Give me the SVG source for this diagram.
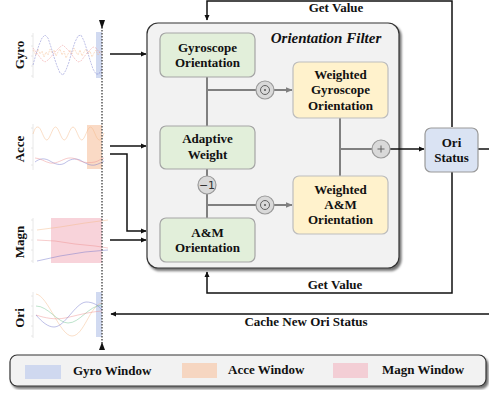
<svg xmlns="http://www.w3.org/2000/svg" width="489" height="394" viewBox="0 0 489 394">
<defs>
<style>
text{font-family:"Liberation Serif","Times New Roman",serif;font-weight:bold;font-size:13px;fill:#111;text-anchor:middle}
.green{fill:#e2efda;stroke:#a5a5a5;stroke-width:1.2}
.yellow{fill:#fff2cc;stroke:#bdbdbd;stroke-width:1.2}
.blue{fill:#dae3f3;stroke:#9a9a9a;stroke-width:1.2}
.op{fill:#d9d9d9;stroke:#9a9a9a;stroke-width:1.2}
.gl{stroke:#808080;stroke-width:2;fill:none}
.bl{stroke:#111;stroke-width:1.5;fill:none}
.ax{stroke:#e2e2e2;stroke-width:0.8;fill:none}
.sig{fill:none;stroke-width:0.9;opacity:0.5}
</style>
<marker id="ah" viewBox="0 0 10 10" refX="9" refY="5" markerWidth="6" markerHeight="6" orient="auto" markerUnits="userSpaceOnUse"><path d="M0,0.5 L10,5 L0,9.5 z" fill="#111"/></marker>
<marker id="ag" viewBox="0 0 10 10" refX="9" refY="5" markerWidth="7" markerHeight="7" orient="auto" markerUnits="userSpaceOnUse"><path d="M0,1 L10,5 L0,9 z" fill="#808080"/></marker>
<filter id="sh" x="-5%" y="-5%" width="115%" height="115%"><feDropShadow dx="2" dy="2.5" stdDeviation="1.2" flood-color="#000" flood-opacity="0.55"/></filter>
</defs>

<!-- left charts -->
<g id="chart-gyro">
<path class="ax" d="M33,33 V78 M31,36 H33 M31,46 H33 M31,56 H33 M31,66 H33 M31,76 H33"/>
<rect x="96" y="32" width="6" height="46" fill="#c9d3ee" opacity="0.85"/>
<polyline class="sig" stroke="#f5b887" stroke-dasharray="2,1" points="33,50 36,55 38,49 40,54 42,51 44,57 46,52 48,55 50,49 52,53 54,50 56,56 58,52 60,49 62,55 64,51 66,58 68,54 70,50 72,54 74,48 76,52 78,55 80,50 82,56 84,52 86,49 88,54 90,51 92,57 94,53 96,50 98,55 100,51 103,54"/>
<polyline class="sig" stroke="#ee8f8f" stroke-dasharray="2,1" points="33,48 36,52 39,56 42,60 45,62 48,60 51,57 54,53 57,50 60,47 63,45 66,48 69,51 72,55 75,59 78,62 81,61 84,57 87,53 90,50 93,47 96,48 99,52 103,56"/>
<polyline class="sig" stroke="#6f74c9" stroke-dasharray="2,1" points="33,65 36,54 39,45 42,38 45,35 48,38 51,47 54,57 57,66 60,73 63,75 66,70 69,62 72,51 75,42 78,36 81,35 84,41 87,50 90,60 93,69 96,74 99,74 102,68"/>
</g>
<g id="chart-acce">
<path class="ax" d="M33,124 V170 M31,128 H33 M31,148 H33 M31,165 H33"/>
<rect x="87" y="125" width="15" height="44" fill="#f8cbad" opacity="0.7"/>
<path class="sig" stroke="#f5b887" d="M33,134 C35,128 36,127 38,127 C41.15,127 43.6,140 46.75,140 C49.9,140 52.35,127 55.5,127 C58.65,127 61.1,140 64.25,140 C67.4,140 69.85,127 73,127 C76.15,127 78.6,140 81.75,140 C84.9,140 87.35,127 90.5,127 C93.65,127 96.1,140 99.25,140 C101.5,140 103,136 104,133"/>
<path class="sig" stroke="#6f74c9" d="M35,162 C40,158 45,158 50,161 C55,164 60,166 65,163 C70,159 75,158 80,160 C85,163 90,166 95,165 C99,164 102,162 104,161"/>
<path class="sig" stroke="#ee8f8f" d="M35,158 C40,158 45,162 50,163 C55,164 60,161 65,159 C70,157 75,158 80,161 C85,163 90,163 95,162 C99,161 102,158 104,158"/>
</g>
<g id="chart-magn">
<path class="ax" d="M33,218 V263 M31,220 H33 M31,230 H33 M31,240 H33 M31,250 H33 M31,261 H33"/>
<rect x="51" y="218" width="51" height="45" fill="#f4b6c2" opacity="0.6"/>
<polyline class="sig" stroke="#f5b887" points="37,230 60,227 85,223 108,220"/>
<polyline class="sig" stroke="#ee8f8f" points="37,240 55,241 75,244 95,246 108,248"/>
<polyline class="sig" stroke="#6f74c9" points="37,261 60,256 85,252 108,250"/>
</g>
<g id="chart-ori">
<path class="ax" d="M33,292 V338 M31,296 H33 M31,306 H33 M31,316 H33 M31,326 H33 M31,336 H33"/>
<rect x="96" y="292" width="6" height="45" fill="#c9d3ee" opacity="0.85"/>
<path class="sig" stroke="#f5b887" d="M36,294 C48,296 60,336 72,336 C84,336 90,305 102,303"/>
<path class="sig" stroke="#6cc08b" d="M36,306 C48,306 58,323 68,323 C80,323 88,306 102,305"/>
<path class="sig" stroke="#ee8f8f" d="M36,315 C45,318 55,320 65,318 C75,316 88,312 102,311"/>
<path class="sig" stroke="#6f74c9" d="M36,315 C42,322 48,327 54,327 C65,327 75,303 86,302 C93,302 98,305 102,310"/>
</g>
<g id="side-labels">
<text transform="translate(24,55) rotate(-90)">Gyro</text>
<text transform="translate(24,149) rotate(-90)">Acce</text>
<text transform="translate(24,242) rotate(-90)">Magn</text>
<text transform="translate(24,318) rotate(-90)">Ori</text>
</g>
<g id="timeline">
<line x1="102" y1="27" x2="102" y2="344" stroke="#555" stroke-width="1.5" stroke-dasharray="1.5,1.5"/>
<path d="M99,20 L105,20 L102,29 z" fill="#111"/>
<path d="M102,342 L99,350 L105,350 z" fill="#111"/>
</g>

<!-- filter container -->
<g id="orientation-filter">
<rect x="147" y="23" width="252" height="245" rx="11" fill="#f2f2f2" stroke="#333" stroke-width="1.2" filter="url(#sh)"/>
<text x="326" y="43" style="font-style:italic;font-size:15px">Orientation Filter</text>
</g>

<!-- connectors -->
<g id="connectors">
<path class="gl" d="M207,77 V126"/>
<path class="gl" d="M207,90 H256"/>
<path class="gl" d="M274,90 H292" marker-end="url(#ag)"/>
<path class="gl" d="M207,169 V176"/>
<path class="gl" d="M207,194 V218"/>
<path class="gl" d="M207,205 H256"/>
<path class="gl" d="M274,205 H292" marker-end="url(#ag)"/>
<path class="gl" d="M340,118 V176"/>
<path class="gl" d="M340,149 H372"/>
<path class="bl" d="M390,149 H424" marker-end="url(#ah)"/>
<path class="bl" d="M478,149 H489"/>
<path class="bl" d="M110,54 H146" marker-end="url(#ah)"/>
<path class="bl" d="M110,146 H146" marker-end="url(#ah)"/>
<path class="bl" d="M110,154 H127 V231 H146" marker-end="url(#ah)"/>
<path class="bl" d="M110,240 H146" marker-end="url(#ah)"/>
<path class="bl" d="M452,127 V1 H207 V20" marker-end="url(#ah)"/>
<path class="bl" d="M452,172 V293 H207 V272" marker-end="url(#ah)"/>
<path class="bl" d="M489,314 H111" marker-end="url(#ah)"/>
<text x="336" y="12">Get Value</text>
<text x="335" y="289">Get Value</text>
<text x="306" y="326">Cache New Ori Status</text>
</g>

<!-- nodes -->
<g id="gyro-orientation">
<rect class="green" x="160" y="33" width="95" height="44" rx="6"/>
<text x="207.5" y="52">Gyroscope</text>
<text x="207.5" y="67">Orientation</text>
</g>
<g id="adaptive-weight">
<rect class="green" x="160" y="126" width="95" height="43" rx="6"/>
<text x="207.5" y="143">Adaptive</text>
<text x="207.5" y="159">Weight</text>
</g>
<g id="am-orientation">
<rect class="green" x="160" y="218" width="95" height="44" rx="6"/>
<text x="207.5" y="237">A&amp;M</text>
<text x="207.5" y="252">Orientation</text>
</g>
<g id="weighted-gyro">
<rect class="yellow" x="293" y="62" width="95" height="56" rx="6"/>
<text x="340.5" y="79">Weighted</text>
<text x="340.5" y="94">Gyroscope</text>
<text x="340.5" y="110">Orientation</text>
</g>
<g id="weighted-am">
<rect class="yellow" x="293" y="176" width="95" height="58" rx="6"/>
<text x="340.5" y="194">Weighted</text>
<text x="340.5" y="209">A&amp;M</text>
<text x="340.5" y="224">Orientation</text>
</g>
<g id="ori-status">
<rect class="blue" x="425" y="128" width="53" height="44" rx="6"/>
<text x="451.5" y="147">Ori</text>
<text x="451.5" y="162">Status</text>
</g>
<g id="op-dot-1">
<circle class="op" cx="265" cy="90" r="9"/>
<circle cx="265" cy="90" r="4.5" fill="none" stroke="#555" stroke-width="0.9"/>
<circle cx="265" cy="90" r="1" fill="#555"/>
</g>
<g id="op-dot-2">
<circle class="op" cx="265" cy="205" r="9"/>
<circle cx="265" cy="205" r="4.5" fill="none" stroke="#555" stroke-width="0.9"/>
<circle cx="265" cy="205" r="1" fill="#555"/>
</g>
<g id="op-minus-one">
<circle class="op" cx="207" cy="185" r="9"/>
<text x="207" y="189" style="font-weight:normal;font-size:11px;font-family:'DejaVu Sans',sans-serif;fill:#333">−1</text>
</g>
<g id="op-plus">
<circle class="op" cx="381" cy="149" r="9"/>
<path d="M377.5,149 H384.5 M381,145.5 V152.5" stroke="#555" stroke-width="0.9"/>
</g>

<!-- legend -->
<g id="legend">
<rect x="10" y="355" width="476" height="31" rx="7" fill="#f2f2f2" stroke="#333" stroke-width="1.2" filter="url(#sh)"/>
<rect x="25" y="365" width="36" height="14" fill="#c9d3ee" opacity="0.85"/>
<text x="73" y="375" style="text-anchor:start">Gyro Window</text>
<rect x="182" y="363" width="35" height="15" fill="#f8cbad" opacity="0.7"/>
<text x="228" y="374" style="text-anchor:start">Acce Window</text>
<rect x="333" y="363" width="35" height="15" fill="#f4b6c2" opacity="0.6"/>
<text x="382" y="374" style="text-anchor:start">Magn Window</text>
</g>
</svg>
